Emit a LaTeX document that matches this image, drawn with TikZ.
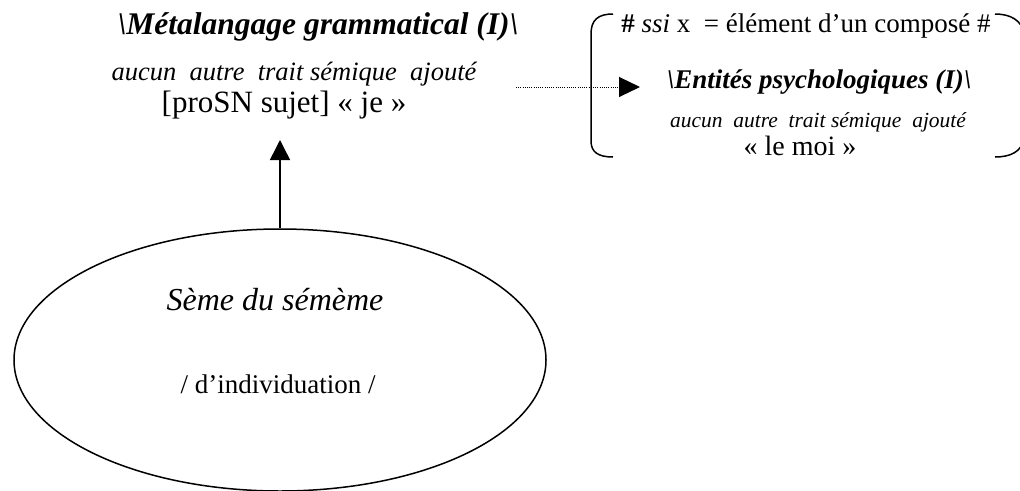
\documentclass[tikz,border=0pt]{standalone}
\usepackage{fontspec}
\setmainfont{Liberation Serif}
\usetikzlibrary{shapes.geometric,arrows.meta}
\newcommand\setfs[1]{\fontsize{#1}{#1}\selectfont}
\tikzset{
  txt/.style={inner sep=0pt, anchor=base},
  stroke/.style={line width=1.5pt},
}
\begin{document}
\begin{tikzpicture}[x=1pt,y=1pt]
\useasboundingbox (0,0) rectangle (1020,-490);
% left block
\node[txt] (title) at (318,-34) {\setfs{31.5}\bfseries\itshape \textbackslash Métalangage grammatical (I)\textbackslash};
\node[txt] (laucun) at (294,-80) {\setfs{26.5}\itshape aucun\ \ autre\ \ trait sémique\ \ ajouté};
\node[txt] (prosn) at (284,-112) {\setfs{31}[proSN sujet] « je »};
% right block
\node[txt] (ssi) at (806,-32) {\setfs{27}\textbf{\#} \textit{ssi} x\ \ = élément d’un composé \#};
\node[txt] (entites) at (819,-88) {\setfs{27}\bfseries\itshape \textbackslash Entités psychologiques (I)\textbackslash};
\node[txt] (raucun) at (818,-127) {\setfs{21.5}\itshape aucun\ \ autre\ \ trait sémique\ \ ajouté};
\node[txt] (lemoi) at (800,-155) {\setfs{28}« le moi »};
% brackets
\draw[stroke] (613,-14) .. controls (598,-14) and (591,-20) .. (591,-34) -- (591,-141) .. controls (591,-152) and (598,-157) .. (613,-157);
\draw[stroke] (995,-14) .. controls (1010,-14) and (1022,-20) .. (1024,-34) -- (1024,-138) .. controls (1022,-152) and (1010,-157) .. (995,-157);
% ellipse
\node[draw, stroke, ellipse, minimum width=532pt, minimum height=262pt, inner sep=0pt] (ell) at (280,-360) {};
\node[txt] (seme) at (275,-310) {\setfs{32}\itshape Sème du sémème};
\node[txt] (indiv) at (278,-393) {\setfs{27}/ d’individuation /};
% connectors
\coordinate (uptip) at (280,-140);
\draw[stroke, -{Triangle[length=20pt,width=20pt]}] (ell.north) -- (uptip);
\coordinate (dstart) at (516,-87);
\coordinate (dtip) at (640,-87);
\draw[line width=1pt, dash pattern=on 1pt off 1.2pt, -{Triangle[length=21pt,width=20pt]}] (dstart) -- (dtip);
\end{tikzpicture}
\end{document}
